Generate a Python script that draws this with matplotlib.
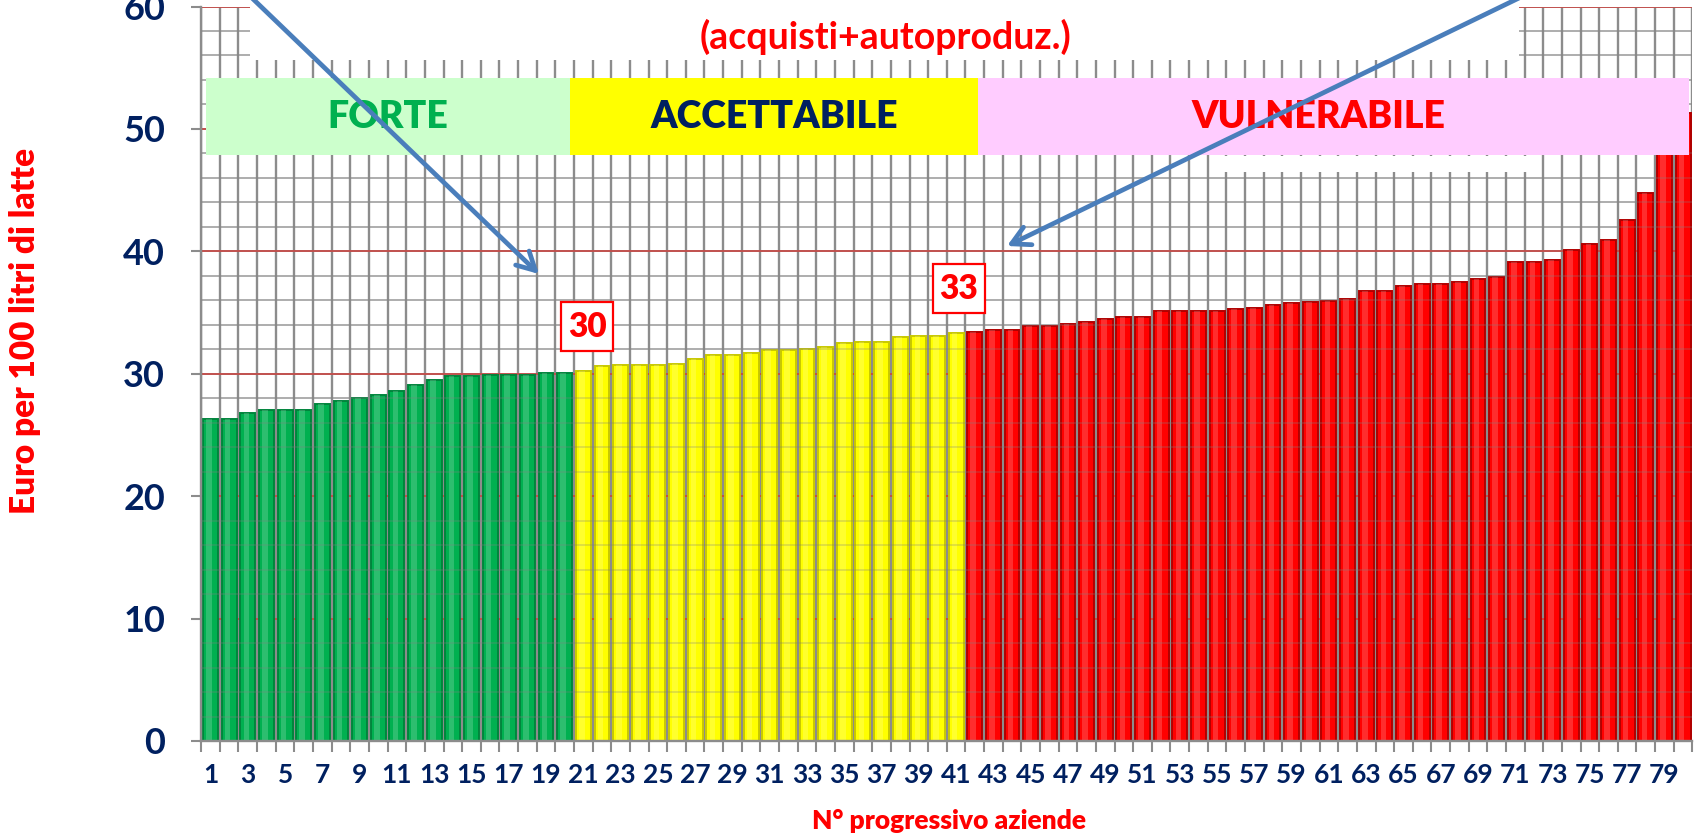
import matplotlib
matplotlib.use('Agg')
import matplotlib.pyplot as plt
from matplotlib.patches import Rectangle, FancyArrowPatch
import numpy as np

plt.rcParams['font.family'] = ['Lato', 'DejaVu Sans']

# costo alimentare (euro / 100 l di latte), aziende ordinate
aziende = list(range(1, 81))
costo_forte = [26.3, 26.3, 26.8, 27.0, 27.0, 27.0, 27.5, 27.8, 28.0, 28.3,
               28.6, 29.1, 29.5, 29.8, 29.8, 29.9, 29.9, 29.9, 30.1, 30.1]
costo_accettabile = [30.2, 30.6, 30.7, 30.7, 30.7, 30.8, 31.2, 31.5, 31.5, 31.7,
                     31.9, 31.9, 32.0, 32.2, 32.5, 32.6, 32.6, 33.0, 33.1, 33.1, 33.3]
costo_vulnerabile = [33.4, 33.6, 33.6, 33.9, 33.9, 34.1, 34.2, 34.5, 34.6, 34.6,
                     35.1, 35.1, 35.1, 35.1, 35.3, 35.4, 35.6, 35.8, 35.9, 35.95,
                     36.1, 36.8, 36.8, 37.2, 37.3, 37.3, 37.5, 37.7, 37.9, 39.1,
                     39.1, 39.3, 40.1, 40.6, 40.9, 42.6, 44.8, 48.5, 51.3]
fasce = ['FORTE', 'ACCETTABILE', 'VULNERABILE']
soglie = ['30', '33']
y_ticks = [0, 10, 20, 30, 40, 50, 60]

valori = costo_forte + costo_accettabile + costo_vulnerabile
colori = (['#00B050'] * len(costo_forte) + ['#FFFF00'] * len(costo_accettabile)
          + ['#FF0000'] * len(costo_vulnerabile))
bordi = (['#00843C'] * len(costo_forte) + ['#C8C800'] * len(costo_accettabile)
         + ['#B00000'] * len(costo_vulnerabile))

W, H = 1701, 836


def fx(px):
    return px / W


def fy(py):
    return 1 - py / H


fig = plt.figure(figsize=(W / 100, H / 100), dpi=100)
ax = fig.add_axes([fx(201.2), fy(741), (1692.4 - 201.2) / W, (741 - 6.5) / H])

x = np.array(aziende)
ax.set_xlim(0.5, 80.5)
ax.set_ylim(0, 60)

# griglia
grigi = [v for v in range(2, 60, 2) if v % 10 != 0]
ax.hlines(grigi, 0.5, 80.5, color='#BFBFBF', lw=1.4, zorder=0)
ax.vlines(np.arange(0.5, 81, 1), 0, 60, color='#8C8C8C', lw=1.7, zorder=0)
ax.hlines(y_ticks[1:], 0.5, 80.5, color='#C0504D', lw=1.4, zorder=0)

# barre "cilindriche": corpo + riflesso
ax.bar(x, valori, width=0.8, color=colori, edgecolor=bordi, linewidth=1.4, zorder=2)
ax.bar(x - 0.08, valori, width=0.3, color='white', alpha=0.18, linewidth=0, zorder=2.5)
ax.hlines(grigi, 0.5, 80.5, color='#808080', lw=1.2, alpha=0.3, zorder=3)

ax.set_xticks(x[::2])
ax.set_xticklabels([str(a) for a in aziende[::2]], fontsize=19, fontweight='bold', color='#002060')
ax.set_xticks(np.arange(0.5, 81, 1), minor=True)
ax.set_yticks(y_ticks)
ax.set_yticklabels([str(v) for v in y_ticks], fontsize=26, fontweight='bold', color='#002060')
ax.tick_params(axis='x', which='major', length=0, pad=16)
ax.tick_params(axis='x', which='minor', length=8, width=1.5, color='#8C8C8C')
ax.tick_params(axis='y', which='major', length=7, width=1.5, color='#8C8C8C', pad=19)
for s in ['top', 'right']:
    ax.spines[s].set_visible(False)
for s in ['left', 'bottom']:
    ax.spines[s].set_color('#8C8C8C')
    ax.spines[s].set_linewidth(1.7)

# riquadri bianchi delle caselle di testo
fig.add_artist(Rectangle((fx(250), fy(60)), (1519 - 250) / W, 60 / H,
                         transform=fig.transFigure, fc='white', ec='none', zorder=5))
fig.add_artist(Rectangle((fx(1212), fy(171.7)), (1527 - 1212) / W, 16 / H,
                         transform=fig.transFigure, fc='white', ec='none', zorder=5))

# fasce
box_x = [206, 570, 978, 1689]
box_fc = ['#CCFFCC', '#FFFF00', '#FFCCFF']
txt_c = ['#00B050', '#002060', '#FF0000']
txt_x = [388, 774, 1318]
for i, f in enumerate(fasce):
    fig.add_artist(Rectangle((fx(box_x[i]), fy(155.3)), (box_x[i + 1] - box_x[i]) / W, 77 / H,
                             transform=fig.transFigure, fc=box_fc[i], ec='none', zorder=5))
    fig.text(fx(txt_x[i]), fy(117), f, ha='center', va='center', fontsize=27,
             fontweight='heavy', color=txt_c[i], zorder=6)

fig.text(fx(885), fy(37), '(acquisti+autoproduz.)', ha='center', va='center',
         fontsize=27, fontweight='bold', color='#FF0000', zorder=6)

# frecce
for a, b in [((252, -2), (539, 274)), ((1519, -2), (1007, 246))]:
    fig.add_artist(FancyArrowPatch((fx(a[0]), fy(a[1])), (fx(b[0]), fy(b[1])),
                                   transform=fig.transFigure,
                                   arrowstyle='->,head_length=13,head_width=7',
                                   color='#4A7EBB', lw=3.4, shrinkA=0, shrinkB=0, zorder=7))

# soglie
for s, (bx, by) in zip(soglie, [(561, 302), (933, 264)]):
    fig.add_artist(Rectangle((fx(bx), fy(by + 49)), 52 / W, 49 / H, transform=fig.transFigure,
                             fc='white', ec='#FF0000', lw=1.6, zorder=6))
    fig.text(fx(bx + 26), fy(by + 25), s, ha='center', va='center', fontsize=24,
             fontweight='heavy', color='#FF0000', zorder=7)

fig.text(fx(25), fy(331), 'Euro per 100 litri di latte', rotation=90, ha='center',
         va='center', fontsize=24, fontweight='heavy', color='#FF0000')
fig.text(fx(949), fy(821), 'N° progressivo aziende', ha='center', va='center',
         fontsize=19, fontweight='heavy', color='#FF0000')

fig.savefig('out.png', dpi=100)
